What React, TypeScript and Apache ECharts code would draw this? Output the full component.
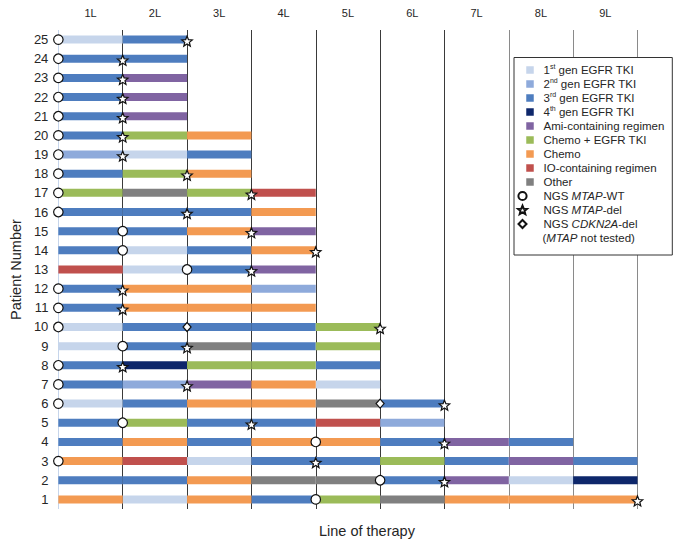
import React, { useEffect, useRef } from 'react';
import * as echarts from 'echarts';

// ---------- data ----------
const patientLabels = ['1', '2', '3', '4', '5', '6', '7', '8', '9', '10', '11', '12', '13', '14', '15', '16', '17', '18', '19', '20', '21', '22', '23', '24', '25'];
const lineLabels = ['1L', '2L', '3L', '4L', '5L', '6L', '7L', '8L', '9L'];

const regimenKeys = ['G1', 'G2', 'G3', 'G4', 'AMI', 'CE', 'CH', 'IO', 'OT'];
const regimenNames = ['1st gen EGFR TKI', '2nd gen EGFR TKI', '3rd gen EGFR TKI', '4th gen EGFR TKI', 'Ami-containing regimen', 'Chemo + EGFR TKI', 'Chemo', 'IO-containing regimen', 'Other'];
const regimenLegendText = ['1{sup|st} gen EGFR TKI', '2{sup|nd} gen EGFR TKI', '3{sup|rd} gen EGFR TKI', '4{sup|th} gen EGFR TKI', 'Ami-containing regimen', 'Chemo + EGFR TKI', 'Chemo', 'IO-containing regimen', 'Other'];
const regimenColors = ['#c6d5eb', '#8eaadb', '#4e7dbf', '#0e276b', '#8064a2', '#9bbb59', '#f39a52', '#c0504d', '#808080'];

// treatment sequence by line of therapy, patient 1 first
const sequences: string[][] = [
  ['CH', 'G1', 'CH', 'G3', 'CE', 'OT', 'CH', 'CH', 'CH'], // 1
  ['G3', 'G3', 'CH', 'OT', 'OT', 'G3', 'AMI', 'G1', 'G4'], // 2
  ['CH', 'IO', 'G1', 'G3', 'G3', 'CE', 'G3', 'AMI', 'G3'], // 3
  ['G3', 'CH', 'G3', 'CH', 'CH', 'G3', 'AMI', 'G3'], // 4
  ['G3', 'CE', 'G3', 'G3', 'IO', 'G2'], // 5
  ['G1', 'G3', 'CH', 'CH', 'OT', 'G3'], // 6
  ['G3', 'G2', 'AMI', 'CH', 'G1'], // 7
  ['G3', 'G4', 'CE', 'CE', 'G3'], // 8
  ['G1', 'G3', 'OT', 'G3', 'CE'], // 9
  ['G1', 'G3', 'G3', 'G3', 'CE'], // 10
  ['G3', 'CH', 'CH', 'CH'], // 11
  ['G3', 'CH', 'CH', 'G2'], // 12
  ['IO', 'G1', 'G3', 'AMI'], // 13
  ['G3', 'G1', 'G3', 'CH'], // 14
  ['G3', 'G3', 'CH', 'AMI'], // 15
  ['G3', 'G3', 'G3', 'CH'], // 16
  ['CE', 'OT', 'CE', 'IO'], // 17
  ['G3', 'CE', 'CH'], // 18
  ['G2', 'G1', 'G3'], // 19
  ['G3', 'CE', 'CH'], // 20
  ['G3', 'AMI'], // 21
  ['G3', 'AMI'], // 22
  ['G3', 'AMI'], // 23
  ['G3', 'G3'], // 24
  ['G1', 'G3'], // 25
];

// line boundary at which each NGS result was obtained, patient 1 first
const mtapWT = [4, 5, 0, 4, 1, 0, 0, 0, 1, 0, 0, 0, 2, 1, 1, 0, 0, 0, 0, 0, 0, 0, 0, 0, 0];
const mtapDel = [9, 6, 4, 6, 3, 6, 2, 1, 2, 5, 1, 1, 3, 4, 3, 2, 3, 2, 1, 1, 1, 1, 1, 1, 2];
const cdkn2aDelPatients = [6, 10];
const cdkn2aDelLines = [5, 2];

const markerNames = ['NGS MTAP-WT', 'NGS MTAP-del', 'NGS CDKN2A-del'];
const markerLegendText = ['NGS {it|MTAP}-WT', 'NGS {it|MTAP}-del', 'NGS {it|CDKN2A}-del'];

// ---------- styling ----------
const FONT = '"Liberation Sans", Arial, Helvetica, sans-serif';
const TXT = '#262626';

const starSymbol = 'path://M0,-50L12.9,-17.8L47.6,-15.5L20.9,6.8L29.4,40.5L0,22L-29.4,40.5L-20.9,6.8L-47.6,-15.5L-12.9,-17.8Z';
const legendSquare = 'path://M0,0M21,10M8.75,1.25h7.5v7.5h-7.5z';
const legendCircle = 'path://M0,0M21,10M0.9,5a4.1,4.1 0 1,0 8.2,0a4.1,4.1 0 1,0 -8.2,0z';
const legendStar = 'path://M0,0M21,10M5,0.6L6.22,3.67L9.52,3.88L6.99,6.0L7.8,9.2L5,7.45L2.2,9.2L3.01,6.0L0.48,3.88L3.78,3.67Z';
const legendDiamond = 'path://M0,0M21,10M5,1L9,5L5,9L1,5Z';

function buildOption() {
  const segData: number[][][] = regimenKeys.map(() => []);
  sequences.forEach((seq, p) => {
    seq.forEach((key, j) => {
      const k = regimenKeys.indexOf(key);
      segData[k].push([j, j + 1, p]);
    });
  });

  const renderItem = (params: any, api: any) => {
    const y = api.value(2);
    const s = api.coord([api.value(0), y]);
    const e = api.coord([api.value(1), y]);
    const h = 8;
    return {
      type: 'rect',
      shape: { x: s[0], y: s[1] - h / 2, width: e[0] - s[0], height: h },
      style: api.style(),
    };
  };

  const segSeries = regimenNames.map((name, k) => ({
    type: 'custom',
    name,
    renderItem,
    encode: { x: [0, 1], y: 2 },
    data: segData[k],
    itemStyle: { color: regimenColors[k] },
    z: 2,
    silent: true,
  }));

  const markerStyle = { color: '#ffffff', borderColor: '#111111', borderWidth: 1.2, opacity: 1 };
  const markerSeries = [
    {
      type: 'scatter',
      name: markerNames[0],
      data: mtapWT.map((x, i) => [x, i]),
      symbol: 'circle',
      symbolSize: 9.5,
      itemStyle: markerStyle,
      z: 5,
      silent: true,
    },
    {
      type: 'scatter',
      name: markerNames[1],
      data: mtapDel.map((x, i) => [x, i]),
      symbol: starSymbol,
      symbolSize: [10.5, 10],
      symbolOffset: [0, 1.5],
      itemStyle: markerStyle,
      z: 6,
      silent: true,
    },
    {
      type: 'scatter',
      name: markerNames[2],
      data: cdkn2aDelPatients.map((p, i) => [cdkn2aDelLines[i], p - 1]),
      symbol: 'diamond',
      symbolSize: [8, 9],
      itemStyle: markerStyle,
      z: 5,
      silent: true,
    },
  ];

  const legendTextMap: Record<string, string> = {};
  regimenNames.forEach((n, i) => (legendTextMap[n] = regimenLegendText[i]));
  markerNames.forEach((n, i) => (legendTextMap[n] = markerLegendText[i]));

  const rich = {
    sup: { fontSize: 7, fontFamily: FONT, color: TXT, verticalAlign: 'top', lineHeight: 6 },
    it: { fontSize: 11.5, fontFamily: FONT, color: TXT, fontStyle: 'italic', lineHeight: 14 },
  };

  const splitColors = ['#c6d5eb', '#3a3a3a', '#3a3a3a', '#3a3a3a', '#3a3a3a', '#3a3a3a', '#3a3a3a', '#8a8a8a', '#8a8a8a', '#8a8a8a'];

  return {
    animation: false,
    backgroundColor: '#ffffff',
    textStyle: { fontFamily: FONT },
    grid: { left: 58, right: 42.5, top: 30, bottom: 33, containLabel: false },
    xAxis: [
      {
        type: 'value',
        min: 0,
        max: 9,
        interval: 1,
        position: 'bottom',
        axisLine: { show: false },
        axisTick: { show: false },
        axisLabel: { show: false },
        splitLine: { show: true, lineStyle: { color: splitColors, width: 1 } },
        name: 'Line of therapy',
        nameLocation: 'middle',
        nameGap: 14,
        nameTextStyle: { fontFamily: FONT, fontSize: 14.5, color: TXT, padding: [0, 0, 0, 38] },
      },
      {
        type: 'category',
        data: lineLabels,
        position: 'top',
        boundaryGap: true,
        axisLine: { show: false },
        axisTick: { show: false },
        splitLine: { show: false },
        axisLabel: { interval: 0, fontFamily: FONT, fontSize: 11, color: TXT, margin: 12 },
      },
    ],
    yAxis: {
      type: 'category',
      data: patientLabels,
      boundaryGap: true,
      axisLine: { show: false },
      axisTick: { show: false },
      splitLine: { show: false },
      axisLabel: { interval: 0, fontFamily: FONT, fontSize: 13, color: TXT, margin: 10 },
      name: 'Patient Number',
      nameLocation: 'middle',
      nameGap: 29,
      nameTextStyle: { fontFamily: FONT, fontSize: 14.5, color: TXT },
    },
    legend: {
      orient: 'vertical',
      left: 514,
      top: 57.5,
      padding: [5.5, 8, 24, 2.5],
      itemGap: 0,
      itemWidth: 21,
      itemHeight: 10,
      selectedMode: false,
      borderColor: '#333333',
      borderWidth: 1,
      backgroundColor: '#ffffff',
      textStyle: { fontFamily: FONT, fontSize: 11.5, color: TXT, lineHeight: 14, rich },
      formatter: (name: string) => legendTextMap[name] || name,
      data: [
        ...regimenNames.map((n) => ({ name: n, icon: legendSquare })),
        { name: markerNames[0], icon: legendCircle },
        { name: markerNames[1], icon: legendStar },
        { name: markerNames[2], icon: legendDiamond },
      ],
    },
    graphic: [
      {
        type: 'text',
        left: 542.5,
        top: 231,
        z: 100,
        style: {
          text: '({it|MTAP} not tested)',
          fontFamily: FONT,
          fontSize: 11.5,
          fill: TXT,
          lineHeight: 14,
          rich,
        },
      },
    ],
    series: [...segSeries, ...markerSeries],
  };
}

export default function App() {
  const ref = useRef<HTMLDivElement | null>(null);
  useEffect(() => {
    if (!ref.current) return;
    const chart = echarts.init(ref.current, undefined, { renderer: 'svg' });
    chart.setOption(buildOption() as any);
    return () => chart.dispose();
  }, []);
  return (
    <div
      ref={ref}
      style={{ position: 'fixed', left: 0, top: 0, width: 680, height: 543, background: '#fff' }}
    />
  );
}
